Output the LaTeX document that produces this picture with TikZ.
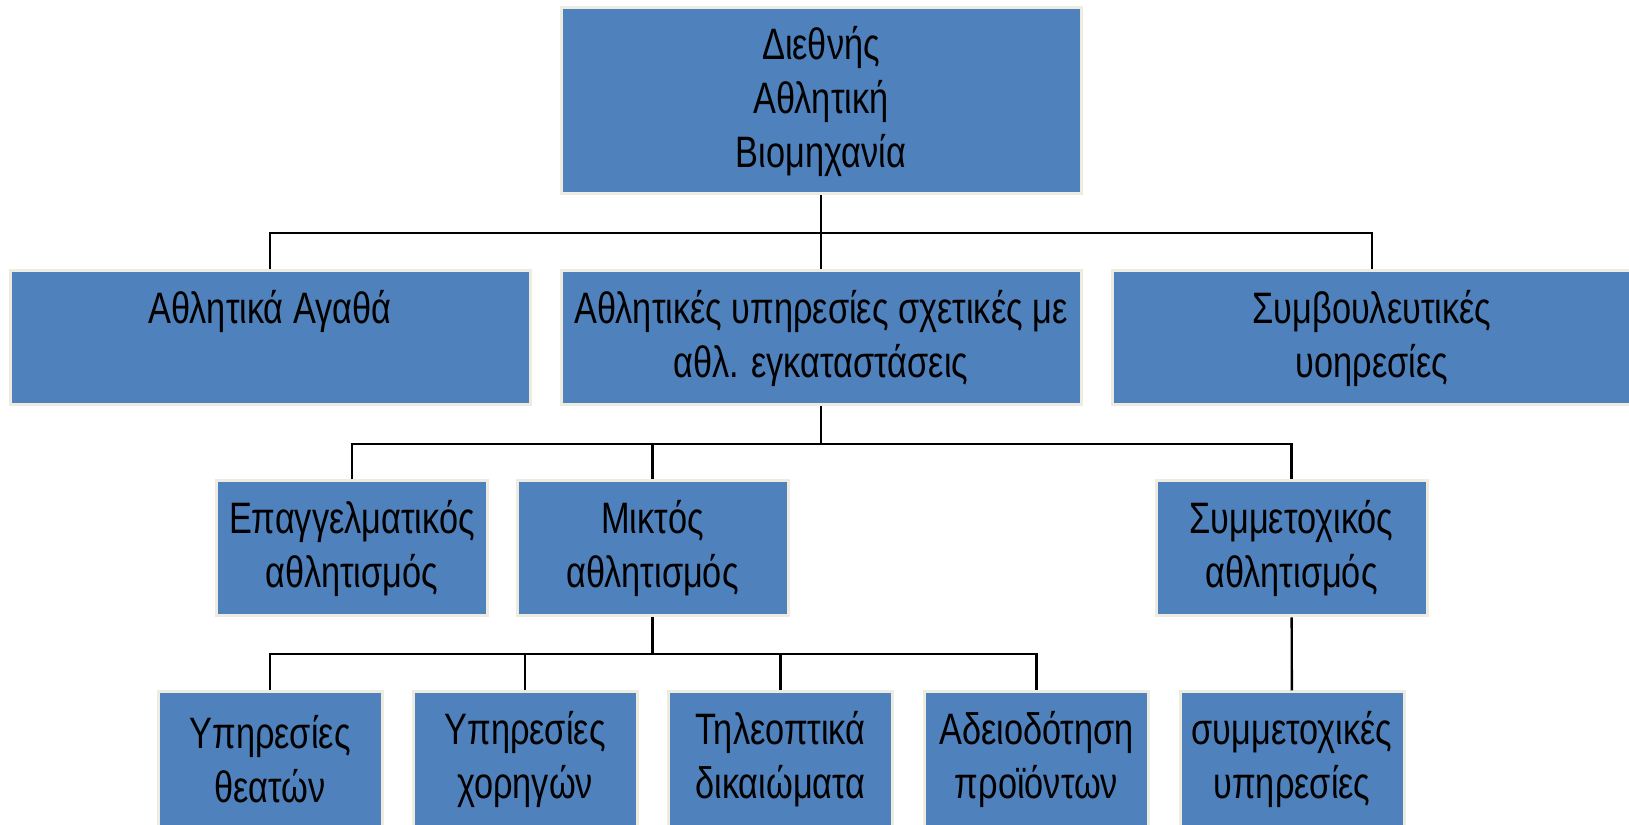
\documentclass[tikz,border=0pt]{standalone}
\usepackage{fontspec}
\setmainfont{Liberation Sans}[FakeStretch=0.78]
\definecolor{boxblue}{HTML}{4F81BD}
\definecolor{boxrim}{HTML}{EEECE1}
\tikzset{
  box/.style={rectangle, draw=boxrim, fill=boxblue, line width=1.5pt, align=center, inner sep=0pt, font=\fontsize{22}{27}\selectfont},
  wide/.style={box, minimum width=260pt, minimum height=67pt},
  mid/.style={box, minimum width=135.5pt, minimum height=67.5pt},
  small/.style={box, minimum width=112pt, minimum height=67.5pt},
  wire/.style={line width=1.2pt, black},
}
\begin{document}
\begin{tikzpicture}[x=0.5pt,y=0.5pt]
\useasboundingbox (0,0) rectangle (1629,825);
\fill[white] (0,0) rectangle (1629,825);
\clip (0,0) rectangle (1629,825);
% top
\node (industry) at (821,724) [box, minimum width=260pt, minimum height=93pt] {Διεθνής\\Αθλητική\\Βιομηχανία};
% second row
\node (goods) at (270,487) [wide] {Αθλητικά Αγαθά\\\vphantom{ρ}};
\node (facil) at (821,487) [wide] {Αθλητικές υπηρεσίες σχετικές με\\αθλ. εγκαταστάσεις};
\node (advice) at (1372,487) [wide] {Συμβουλευτικές\\υοηρεσίες};
% third row
\node (pro) at (352,276.5) [mid] {Επαγγελματικός\\αθλητισμός};
\node (mixed) at (652.5,276.5) [mid] {Μικτός\\αθλητισμός};
\node (part) at (1291.5,276.5) [mid] {Συμμετοχικός\\αθλητισμός};
% fourth row
\node (spect) at (270,65.5) [small] {Υπηρεσίες\\θεατών};
\node (spons) at (525,65.5) [small] {Υπηρεσίες\\χορηγών};
\node (tv) at (780.5,65.5) [small] {Τηλεοπτικά\\δικαιώματα};
\node (lic) at (1036.5,65.5) [small] {Αδειοδότηση\\προϊόντων};
\node (partsrv) at (1292,65.5) [small] {συμμετοχικές\\υπηρεσίες};
% junctions
\coordinate (j1) at (821,592);
\coordinate (j2) at (821,381);
\coordinate (j3) at (652.5,171);
\draw[wire] (industry) -- (facil);
\draw[wire] (goods.north) |- (j1) -| (advice.north);
\draw[wire] (facil) -- (j2);
\draw[wire] (pro.north) |- (j2) -| (part.north);
\draw[wire] (mixed.north) -- (mixed.north |- j2);
\draw[wire] (mixed) -- (j3);
\draw[wire] (spect.north) |- (j3) -| (lic.north);
\draw[wire] (spons.north) -- (spons.north |- j3);
\draw[wire] (tv.north) -- (tv.north |- j3);
\draw[wire] (part) -- (partsrv);
\end{tikzpicture}
\end{document}
